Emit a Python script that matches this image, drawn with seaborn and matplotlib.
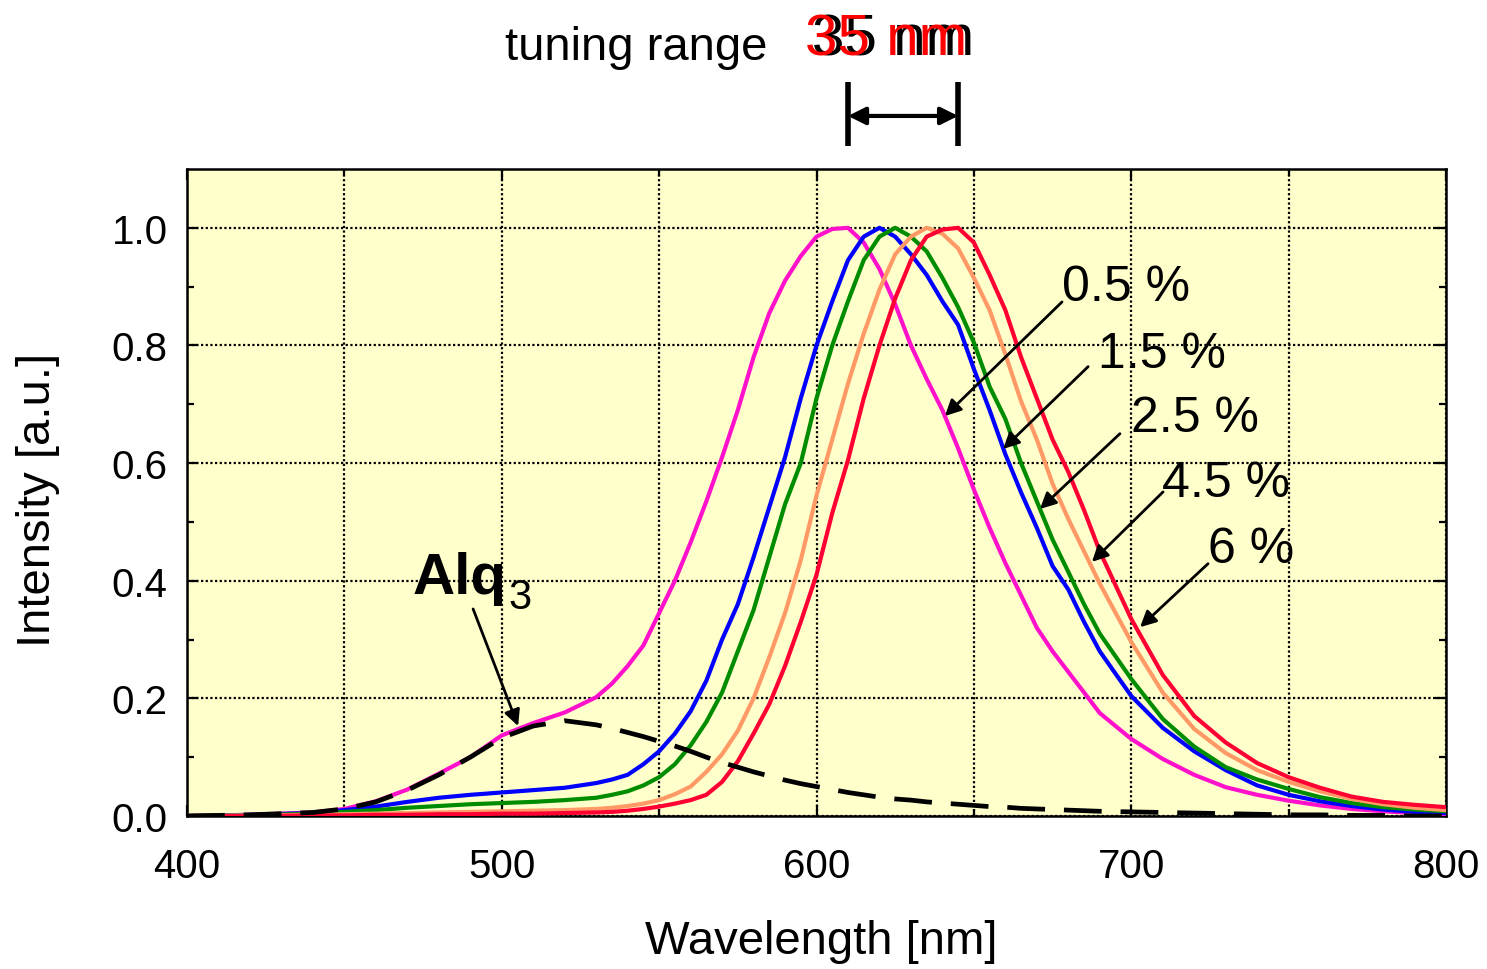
import numpy as np
import pandas as pd
import matplotlib
matplotlib.use("Agg")
import matplotlib.pyplot as plt
import seaborn as sns

# ---------------- data ----------------
wavelength = [400, 420, 440, 450, 460, 470, 480, 490, 500, 510, 520,
              530, 535, 540, 545, 550, 555, 560, 565, 570, 575, 580, 585, 590, 595,
              600, 605, 610, 615, 620, 625, 630, 635, 640, 645, 650, 655, 660, 665,
              670, 675, 680, 685, 690,
              700, 710, 720, 730, 740, 750, 760, 770, 780, 790, 800]

dop_05 = [0.0, 0.002, 0.006, 0.012, 0.025, 0.045, 0.072, 0.10, 0.137, 0.158, 0.176,
          0.202, 0.225, 0.255, 0.29, 0.345, 0.40, 0.465, 0.535, 0.61, 0.69, 0.78, 0.855, 0.91, 0.952,
          0.985, 0.998, 1.0, 0.975, 0.93, 0.87, 0.80, 0.743, 0.69, 0.625, 0.555, 0.49, 0.43, 0.375,
          0.32, 0.28, 0.245, 0.21, 0.175,
          0.131, 0.097, 0.07, 0.049, 0.036, 0.026, 0.018, 0.012, 0.008, 0.005, 0.003]

dop_15 = [0.0, 0.002, 0.005, 0.01, 0.016, 0.024, 0.031, 0.036, 0.04, 0.044, 0.048,
          0.056, 0.062, 0.07, 0.088, 0.11, 0.14, 0.178, 0.23, 0.30, 0.36, 0.44, 0.525, 0.61, 0.71,
          0.80, 0.875, 0.945, 0.985, 1.0, 0.985, 0.955, 0.92, 0.875, 0.835, 0.76, 0.69, 0.615, 0.55,
          0.49, 0.425, 0.385, 0.33, 0.28,
          0.204, 0.15, 0.11, 0.078, 0.052, 0.036, 0.025, 0.017, 0.011, 0.007, 0.005]

dop_25 = [0.0, 0.001, 0.004, 0.007, 0.01, 0.014, 0.017, 0.02, 0.022, 0.024, 0.027,
          0.031, 0.036, 0.042, 0.052, 0.066, 0.088, 0.12, 0.16, 0.21, 0.28, 0.35, 0.44, 0.53, 0.60,
          0.71, 0.80, 0.875, 0.945, 0.985, 1.0, 0.985, 0.96, 0.915, 0.865, 0.805, 0.73, 0.675, 0.60,
          0.535, 0.47, 0.415, 0.36, 0.31,
          0.233, 0.165, 0.118, 0.083, 0.062, 0.046, 0.032, 0.022, 0.015, 0.011, 0.008]

dop_45 = [0.0, 0.001, 0.002, 0.003, 0.004, 0.005, 0.006, 0.007, 0.008, 0.009, 0.01,
          0.012, 0.014, 0.017, 0.021, 0.027, 0.037, 0.05, 0.075, 0.105, 0.145, 0.20, 0.27, 0.345, 0.435,
          0.545, 0.64, 0.735, 0.82, 0.895, 0.955, 0.985, 1.0, 0.99, 0.965, 0.915, 0.86, 0.785, 0.705,
          0.64, 0.565, 0.505, 0.45, 0.395,
          0.296, 0.21, 0.148, 0.107, 0.078, 0.058, 0.042, 0.029, 0.02, 0.014, 0.01]

dop_60 = [0.0, 0.0, 0.001, 0.001, 0.002, 0.002, 0.003, 0.003, 0.004, 0.004, 0.005,
          0.006, 0.007, 0.009, 0.012, 0.016, 0.021, 0.027, 0.036, 0.058, 0.093, 0.14, 0.19, 0.255, 0.33,
          0.41, 0.515, 0.605, 0.71, 0.80, 0.88, 0.945, 0.985, 0.997, 1.0, 0.975, 0.92, 0.86, 0.78,
          0.71, 0.64, 0.585, 0.52, 0.45,
          0.335, 0.24, 0.17, 0.125, 0.09, 0.066, 0.048, 0.033, 0.024, 0.019, 0.015]

alq3 = [0.0, 0.002, 0.006, 0.012, 0.024, 0.044, 0.07, 0.10, 0.133, 0.153, 0.162,
        0.155, 0.149, 0.142, 0.135, 0.127, 0.119, 0.11, 0.10, 0.091, 0.083, 0.075, 0.068, 0.061, 0.055,
        0.05, 0.045, 0.04, 0.036, 0.032, 0.029, 0.027, 0.024, 0.022, 0.02, 0.018, 0.016, 0.015, 0.013,
        0.012, 0.011, 0.01, 0.009, 0.008,
        0.007, 0.006, 0.005, 0.004, 0.003, 0.002, 0.002, 0.001, 0.001, 0.0, 0.0]

series_labels = ["0.5 %", "1.5 %", "2.5 %", "4.5 %", "6 %"]
series_values = [dop_05, dop_15, dop_25, dop_45, dop_60]
series_colors = ["#FF11CC", "#0000FF", "#008C00", "#FF9966", "#FF0033"]

x_ticks = [400, 500, 600, 700, 800]
y_ticks = [0.0, 0.2, 0.4, 0.6, 0.8, 1.0]

# ---------------- styling ----------------
sns.set_theme(style="ticks")
plt.rcParams["font.family"] = ["Liberation Sans", "DejaVu Sans"]
for k in ("text.color", "axes.labelcolor", "xtick.color", "ytick.color",
          "xtick.labelcolor", "ytick.labelcolor"):
    plt.rcParams[k] = "black"

W, H = 1487, 970
fig = plt.figure(figsize=(W / 100, H / 100), dpi=100)
ax = fig.add_axes([187 / W, 1 - 817 / H, (1446 - 187) / W, (817 - 170) / H])
ax.set_facecolor("#FFFFCC")

df = pd.concat(
    [pd.DataFrame({"Wavelength": wavelength, "Intensity": v, "Doping": lab})
     for lab, v in zip(series_labels, series_values)],
    ignore_index=True)

sns.lineplot(data=df, x="Wavelength", y="Intensity", hue="Doping",
             hue_order=series_labels, palette=series_colors, linewidth=3.0,
             estimator=None, sort=False, legend=False, ax=ax, zorder=3)

sns.lineplot(x=wavelength, y=alq3, color="black", linewidth=3.4,
             estimator=None, sort=False, legend=False, ax=ax, zorder=4)
ax.lines[-1].set_dashes([8, 4])

ax.set_xlim(400, 800)
ax.set_ylim(0, 1.1)
ax.set_xticks(x_ticks)
ax.set_xticklabels([str(t) for t in x_ticks])
ax.set_xticks(np.arange(450, 800, 100), minor=True)
ax.set_yticks(y_ticks)
ax.set_yticklabels([f"{t:.1f}" for t in y_ticks])
ax.set_yticks(np.arange(0.1, 1.1, 0.2), minor=True)

ax.set_axisbelow(True)
grid_kw = dict(color="black", linestyle=(0, (1, 1.1)), linewidth=1.6)
ax.grid(True, which="both", axis="x", **grid_kw)
ax.grid(True, which="major", axis="y", **grid_kw)

for s in ax.spines.values():
    s.set_linewidth(1.8)
    s.set_color("black")

ax.tick_params(which="both", direction="in", top=True, right=True,
               width=1.6, color="black", labelcolor="black")
ax.tick_params(which="major", length=8)
ax.tick_params(which="minor", length=5)
ax.tick_params(axis="x", which="major", labelsize=29, pad=22)
ax.tick_params(axis="y", which="major", labelsize=29, pad=14)

ax.set_xlabel("Wavelength [nm]", fontsize=34, color="black")
ax.set_ylabel("Intensity [a.u.]", fontsize=34, color="black")
ax.xaxis.set_label_coords(0.504, -0.193)
ax.yaxis.set_label_coords(-0.118, 0.49)
ax.xaxis.label.set_va("center")
ax.yaxis.label.set_va("center")

# ---------------- annotations ----------------
arrow_kw = dict(arrowstyle="-|>", color="black", lw=2.0, mutation_scale=24,
                shrinkA=0, shrinkB=0)
label_pos = [(678.0, 0.878), (689.3, 0.764), (699.8, 0.655), (709.8, 0.544), (724.4, 0.432)]
arrow_start = [(678.0, 0.874), (686.3, 0.764), (696.4, 0.650), (710.1, 0.551), (724.4, 0.429)]
arrow_tip = [(640.8, 0.680), (659.3, 0.624), (671.0, 0.522), (687.5, 0.432), (702.8, 0.321)]
for lab, lp, st, tp in zip(series_labels, label_pos, arrow_start, arrow_tip):
    ax.annotate("", xy=tp, xytext=st, arrowprops=arrow_kw, zorder=6)
    ax.text(lp[0], lp[1], lab, fontsize=36, ha="left", va="baseline", zorder=6)

ax.annotate("", xy=(505.2, 0.153), xytext=(490.9, 0.352), arrowprops=arrow_kw, zorder=6)
fig.text(413 / W, 1 - 594 / H, "Alq", fontsize=42, fontweight="bold",
         ha="left", va="baseline")
fig.text(508 / W, 1 - 609 / H, "3", fontsize=30, ha="left", va="baseline")

# tuning range bracket between the 0.5 % and 6 % peaks
peak_lo = wavelength[int(np.argmax(dop_05))]
peak_hi = wavelength[int(np.argmax(dop_60))]
trans = ax.get_xaxis_transform()
for xb in (peak_lo, peak_hi):
    ax.plot([xb, xb], [1.036, 1.134], transform=trans, color="black", lw=4,
            clip_on=False, solid_capstyle="butt")
ax.annotate("", xy=(peak_hi, 1.082), xytext=(peak_lo, 1.082), xycoords=trans,
            textcoords=trans,
            arrowprops=dict(arrowstyle="<|-|>", color="black", lw=3,
                            mutation_scale=26, shrinkA=0, shrinkB=0),
            annotation_clip=False)

fig.text(505 / W, 1 - 60 / H, "tuning range", fontsize=34, ha="left", va="baseline")
range_txt = f"{peak_hi - peak_lo:.0f} nm"
fig.text(812 / W, 1 - 56 / H, range_txt, fontsize=42, ha="left", va="baseline",
         color="black")
fig.text(805 / W, 1 - 56 / H, range_txt, fontsize=42, ha="left", va="baseline",
         color="#FF0000")

fig.savefig("out.png", dpi=100)
